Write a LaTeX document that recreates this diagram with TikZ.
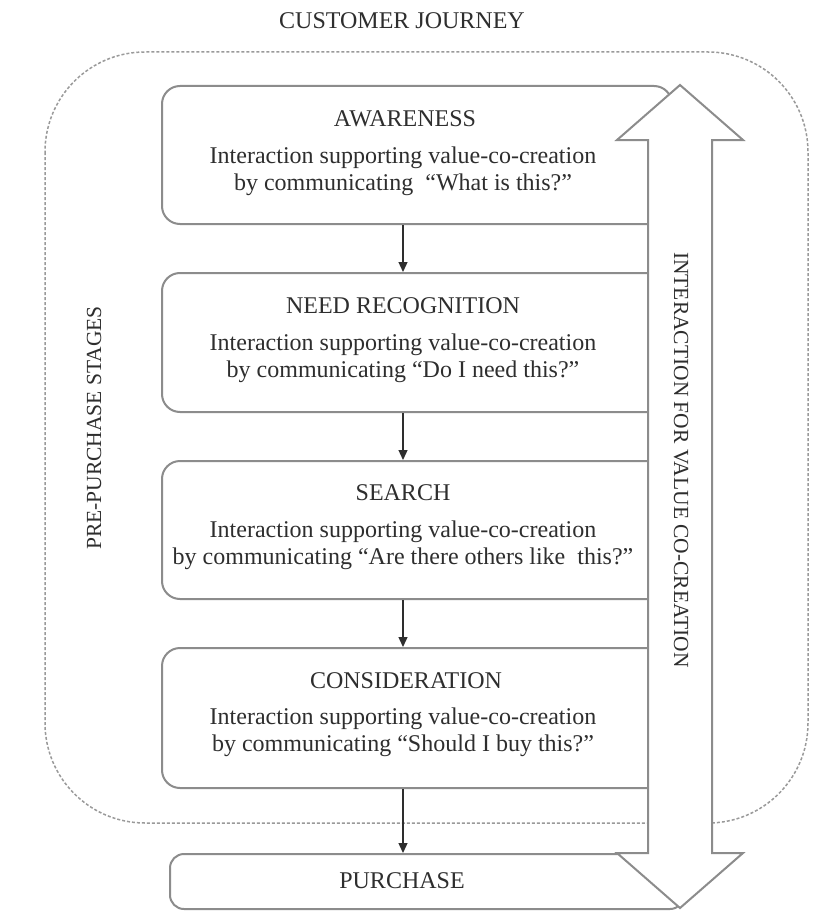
\documentclass[tikz,border=0pt]{standalone}
\usepackage{fontspec}
\setmainfont{Liberation Serif}
\usepackage{xcolor}
\usepackage{tikz}
\usetikzlibrary{arrows.meta}

\definecolor{boxline}{HTML}{8C8C8C}
\definecolor{inkgray}{HTML}{2E2E2E}
\definecolor{dashgray}{HTML}{9A9A9A}

\begin{document}
\begin{tikzpicture}[
    x=1pt, y=-1pt,
    stage/.style={
        rectangle, rounded corners=18pt,
        draw=boxline, line width=2pt, fill=white,
        inner sep=0pt
    },
    stagename/.style={font=\fontsize{24}{27}\selectfont, text=inkgray, inner sep=0pt},
    stagetext/.style={font=\fontsize{24}{27}\selectfont, text=inkgray, align=center, inner sep=0pt},
    flow/.style={-{Triangle[length=10pt, width=9pt]}, line width=1.3pt, draw=inkgray},
    sidelabel/.style={font=\fontsize{21.5}{24}\selectfont, text=inkgray, inner sep=0pt},
]

\useasboundingbox[fill=white] (0,0) rectangle (823,923);

% Cornice customer journey
\node[stagename] (journey) at (402,21) {CUSTOMER JOURNEY};
\draw[dashgray, line width=1.5pt, dash pattern=on 3pt off 2pt, rounded corners=100pt]
    (45,52) rectangle (808,823);

% Fasi
\node[stage, minimum width=510, minimum height=138] (aware)    at (417,155)   {};
\node[stage, minimum width=510, minimum height=139] (need)     at (417,342.5) {};
\node[stage, minimum width=510, minimum height=138] (search)   at (417,530)   {};
\node[stage, minimum width=510, minimum height=140] (consid)   at (417,718)   {};
\node[stage, minimum width=514, minimum height=55, rounded corners=14pt]
    (purchase) at (427,881.5) {};

% Testi delle fasi
\node[stagename] (aware-t) at (405,119) {AWARENESS};
\node[stagetext] (aware-b) at (403,171)
    {Interaction supporting value-co-creation\\
     by communicating\ \ ``What is this?''};

\node[stagename] (need-t) at (403,306) {NEED RECOGNITION};
\node[stagetext] (need-b) at (403,358)
    {Interaction supporting value-co-creation\\
     by communicating ``Do I need this?''};

\node[stagename] (search-t) at (403,493) {SEARCH};
\node[stagetext] (search-b) at (403,545)
    {Interaction supporting value-co-creation\\
     by communicating ``Are there others like\ \ this?''};

\node[stagename] (consid-t) at (406,681) {CONSIDERATION};
\node[stagetext] (consid-b) at (403,732)
    {Interaction supporting value-co-creation\\
     by communicating ``Should I buy this?''};

\node[stagename] (purchase-t) at (402,881) {PURCHASE};

% Collegamenti
\draw[flow] (aware-b |- aware.south)   -- (aware-b |- need.north);
\draw[flow] (aware-b |- need.south)    -- (aware-b |- search.north);
\draw[flow] (aware-b |- search.south)  -- (aware-b |- consid.north);
\draw[flow] (aware-b |- consid.south)  -- (aware-b |- purchase.north);

% Freccia doppia
\draw[boxline, line width=2pt, fill=white]
    (680,85) -- (743,140) -- (712,140) -- (712,853) -- (743,853) -- (680,908)
    -- (617,853) -- (648,853) -- (648,140) -- (617,140) -- cycle;
\node[sidelabel, rotate=-90] (cocreation) at (681,460)
    {INTERACTION FOR VALUE CO-CREATION};

% Etichetta laterale
\node[sidelabel, rotate=90] (prepurchase) at (94,428) {PRE-PURCHASE STAGES};

\end{tikzpicture}
\end{document}
